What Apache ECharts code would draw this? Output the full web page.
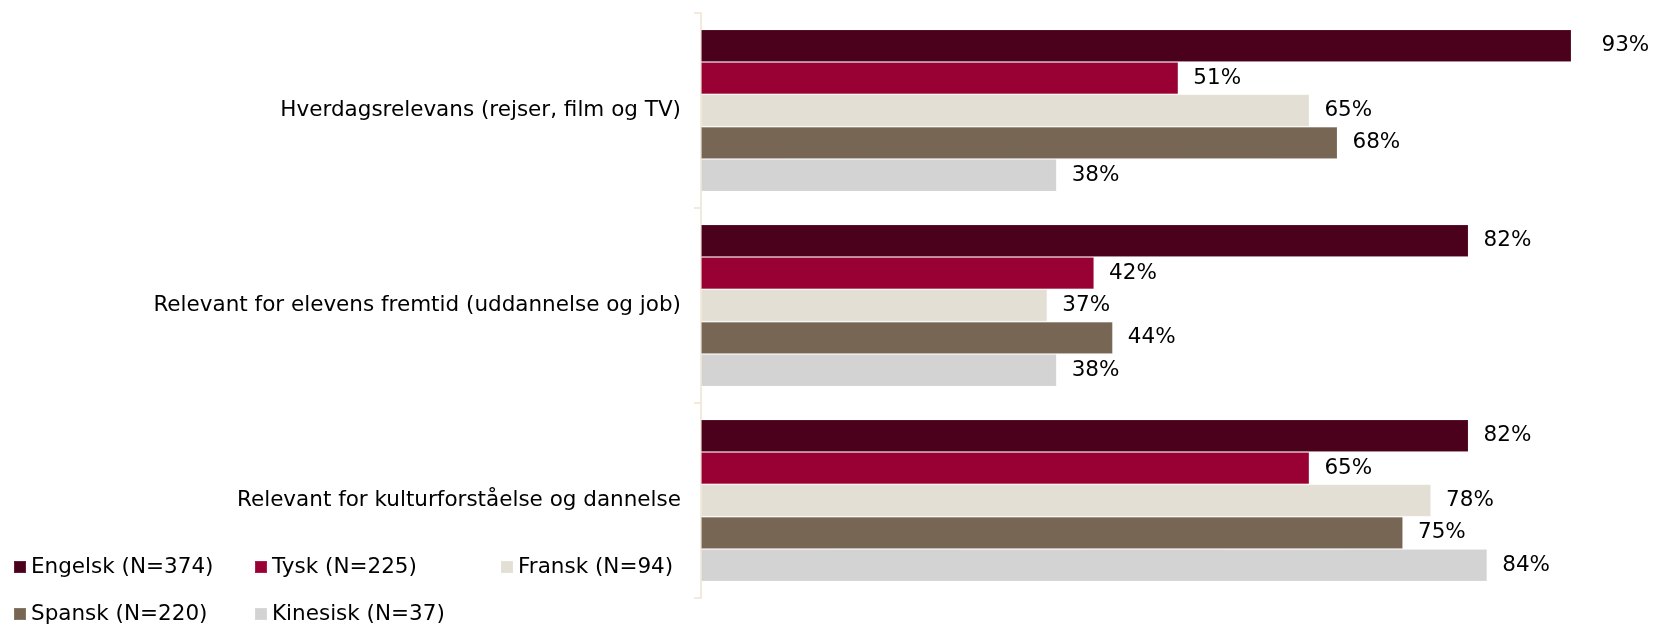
<!DOCTYPE html>
<html>
<head>
<meta charset="utf-8">
<script src="https://cdn.jsdelivr.net/npm/echarts@6/dist/echarts.min.js"></script>
<style>
  html, body { margin: 0; padding: 0; background: #fff; }
  #main { width: 1654px; height: 626px; }
</style>
</head>
<body>
<div id="main"></div>
<script>
var categories = [
  'Hverdagsrelevans (rejser, film og TV)',
  'Relevant for elevens fremtid (uddannelse og job)',
  'Relevant for kulturforståelse og dannelse'
];
var seriesNames = ['Engelsk (N=374)', 'Tysk (N=225)', 'Fransk (N=94)', 'Spansk (N=220)', 'Kinesisk (N=37)'];
var engelsk = [93, 82, 82];
var tysk = [51, 42, 65];
var fransk = [65, 37, 78];
var spansk = [68, 44, 75];
var kinesisk = [38, 38, 84];
var colors = ['#4b001b', '#990033', '#e3dfd4', '#786654', '#d3d3d3'];

var chart = echarts.init(document.getElementById('main'));
var font = 'DejaVu Sans, Verdana, sans-serif';
var values = [engelsk, tysk, fransk, spansk, kinesisk];

// legend laid out in fixed columns like the original
var legendPos = [
  { left: 13, top: 556 }, { left: 254, top: 556 }, { left: 500, top: 556 },
  { left: 13, top: 603 }, { left: 254, top: 603 }
];

var option = {
  animation: false,
  color: colors,
  grid: { left: 701, right: 17, top: 13, bottom: 28, containLabel: false },
  legend: seriesNames.map(function (n, i) {
    return {
      data: [n],
      left: legendPos[i].left,
      top: legendPos[i].top,
      icon: 'rect',
      itemWidth: 12,
      itemHeight: 12,
      padding: 0,
      textStyle: { fontFamily: font, fontSize: 21.5, color: '#000' }
    };
  }),
  xAxis: {
    type: 'value',
    min: 0,
    max: 100,
    show: false
  },
  yAxis: {
    type: 'category',
    data: categories,
    inverse: true,
    axisLine: { show: true, lineStyle: { color: '#efe3d0', width: 1.5 } },
    axisTick: { show: true, length: 7, lineStyle: { color: '#efe3d0', width: 1.5 } },
    axisLabel: { fontFamily: font, fontSize: 21.5, color: '#000', margin: 20 }
  },
  series: seriesNames.map(function (n, i) {
    return {
      name: n,
      type: 'bar',
      data: values[i].map(function (v) {
        // the long top label sits a bit further from its bar in the original
        return v > 90 ? { value: v, label: { distance: 30 } } : v;
      }),
      barGap: '0%',
      barCategoryGap: '17%',
      itemStyle: { color: colors[i], borderColor: 'rgba(255,255,255,0.12)', borderWidth: 1 },
      label: {
        show: true,
        position: 'right',
        distance: 15,
        formatter: '{c}%',
        fontFamily: font,
        fontSize: 21.5,
        color: '#000'
      }
    };
  })
};
chart.setOption(option);
</script>
</body>
</html>
